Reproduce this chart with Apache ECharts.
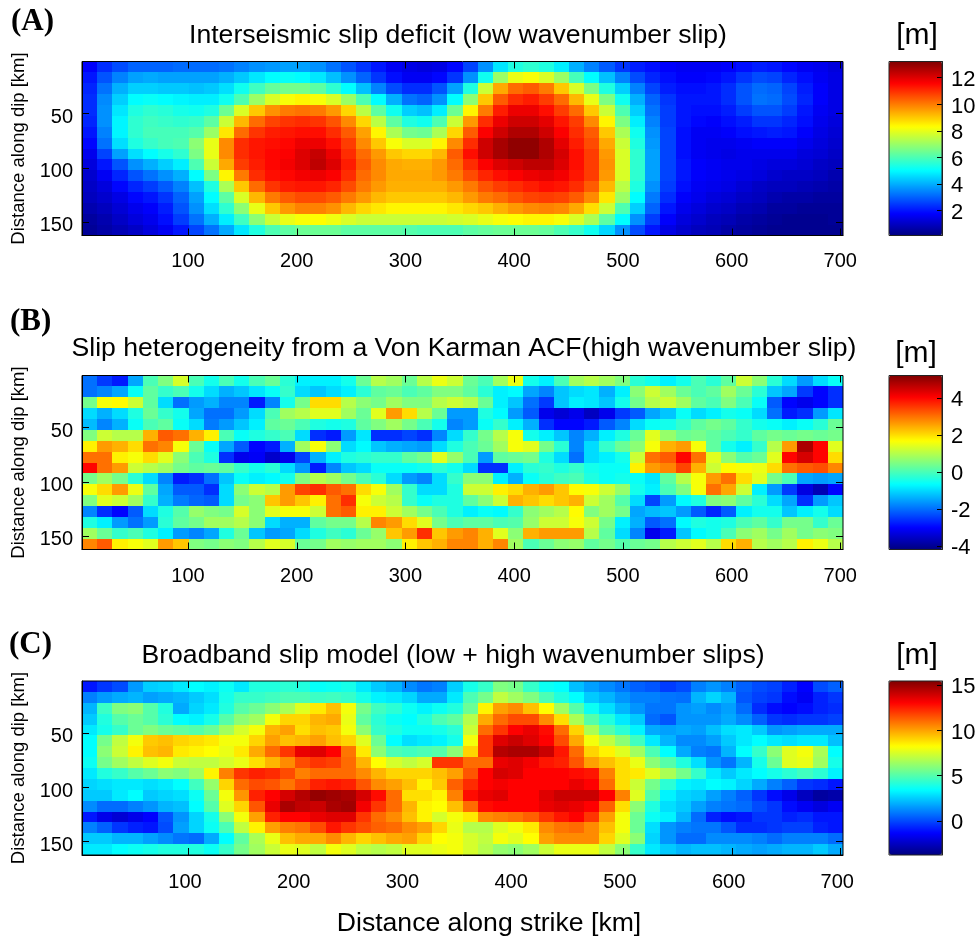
<!DOCTYPE html>
<html><head><meta charset="utf-8">
<style>html,body{margin:0;padding:0;background:#fff}#c{width:979px;height:937px}</style>
<script src="https://cdn.jsdelivr.net/npm/echarts@6/dist/echarts.min.js"></script>
</head><body><div id="c"></div>
<script>
const titles=["Interseismic slip deficit (low wavenumber slip)","Slip heterogeneity from a Von Karman ACF(high wavenumber slip)","Broadband slip model (low + high wavenumber slips)"];
const panelLabels=["(A)","(B)","(C)"];
const xTicks=[100,200,300,400,500,600,700];
const yTicks=[50,100,150];
const barTicksA=[2,4,6,8,10,12];
const barTicksB=[-4,-2,0,2,4];
const barTicksC=[0,5,10,15];
const rangeA=[0.1,13.2], rangeB=[-4.2,5.2], rangeC=[-3.8,15.4];
const jet=['#000080','#0000ff','#0080ff','#00ffff','#80ff80','#ffff00','#ff8000','#ff0000','#800000'];
const slipA=[
[1.7,2.3,2.7,3,3,3,3.1,3.1,3.1,3.2,3.4,3.6,3.7,3.8,3.8,3.6,3.2,2.8,2.4,2,1.6,1.4,1.3,1.4,1.8,2.6,3.6,4.7,5.4,5.6,5.4,4.8,4,3.4,2.9,2.4,2.1,1.9,1.7,1.6,1.6,1.6,1.7,1.9,2.1,2,1.8,1.6,1.5,1.3],
[2,2.8,3.4,3.8,3.9,3.8,3.8,3.8,3.8,4,4.3,4.7,5,5.1,5,4.7,4.2,3.6,3,2.4,1.9,1.6,1.6,1.8,2.4,3.6,5.2,7,8,8.2,7.8,7,5.9,5,4.2,3.4,2.7,2.2,1.9,1.7,1.7,1.8,2,2.4,2.7,2.6,2.2,1.9,1.6,1.4],
[2.2,3.2,4,4.4,4.4,4.3,4.3,4.2,4.3,4.6,5.2,5.8,6.3,6.5,6.5,6.2,5.6,5,4.2,3.4,2.7,2.3,2.3,2.8,3.8,5.4,7.6,9.4,10.2,10.4,10,9,7.8,6.6,5.4,4.4,3.4,2.6,2.1,1.9,1.9,2,2.3,2.8,3.1,3,2.6,2.1,1.7,1.4],
[2.3,3.5,4.4,5,5.1,5,4.9,4.8,4.8,5.2,6,7,7.8,8.2,8.4,8.2,7.8,7,6,5,4,3.2,3,3.6,5,6.8,9,10.4,11,11.2,10.8,10.2,9.2,8,6.6,5.2,4,3,2.4,2,2,2,2.3,2.8,3.2,3.1,2.7,2.2,1.7,1.4],
[2.3,3.6,4.7,5.4,5.6,5.5,5.3,5.2,5.4,6.4,7.8,9,9.7,10,10.1,10,9.6,8.8,7.4,6.2,5.2,4.4,4.2,4.8,6.4,8.4,10,11.2,11.8,11.8,11.4,10.8,10.2,9,7.6,6,4.4,3.2,2.5,2,1.9,1.9,2.1,2.5,2.8,2.8,2.5,2,1.6,1.4],
[2.2,3.6,4.9,5.6,5.8,5.7,5.6,5.7,6.2,7.6,9.2,10.2,10.7,10.9,11,10.9,10.5,9.8,8.8,7.4,6.2,5.4,5.2,6,7.6,9.6,11,11.8,12.2,12.2,11.9,11.3,10.8,9.8,8.4,6.6,4.8,3.4,2.5,2,1.8,1.7,1.9,2.1,2.4,2.4,2.2,1.9,1.5,1.3],
[2,3.4,4.9,5.6,5.9,5.9,5.9,6.1,7,8.6,10.2,10.9,11.2,11.3,11.4,11.4,11,10.4,9.5,8.4,7.2,6.5,6.4,7.2,8.8,10.4,11.6,12.2,12.6,12.6,12.2,11.6,11,10.4,9,7.2,5.2,3.6,2.6,1.9,1.6,1.6,1.7,1.9,2,2.1,2,1.7,1.4,1.2],
[1.8,3.2,4.6,5.4,5.7,5.9,6,6.8,8,9.8,11,11.3,11.4,11.5,11.8,11.8,11.4,10.8,9.8,9,8.2,7.8,7.8,8.4,9.8,11,12.2,12.7,13,13,12.6,11.9,11.2,10.6,9.4,7.6,5.4,3.7,2.6,1.9,1.6,1.5,1.5,1.6,1.7,1.7,1.7,1.5,1.3,1.1],
[1.5,2.6,3.8,4.6,5,5.3,5.6,6.6,8,9.8,11,11.3,11.5,11.6,12,12.3,11.8,11,10.2,9.6,9,8.8,8.8,9.2,10.4,11.4,12.2,12.7,13,13,12.6,12.1,11.4,10.8,9.6,7.8,5.6,3.8,2.6,1.9,1.6,1.5,1.4,1.5,1.5,1.5,1.5,1.3,1.2,1],
[1.3,2,2.8,3.6,4,4.4,4.8,6,7.6,9.4,10.8,11.2,11.5,11.7,12,12.4,12,11.2,10.4,9.8,9.4,9.3,9.3,9.6,10.2,11,11.6,12,12.2,12.4,12.4,12,11.4,10.8,9.7,7.8,5.6,3.8,2.6,2,1.7,1.6,1.5,1.5,1.4,1.3,1.3,1.2,1,0.9],
[1.1,1.6,2.2,2.8,3.2,3.6,4,5,6.6,8.4,10,11,11.4,11.5,11.7,11.8,11.6,11,10.2,9.8,9.4,9.4,9.4,9.6,10,10.6,11.1,11.4,11.6,11.8,11.9,11.7,11.3,10.8,9.6,7.8,5.6,3.8,2.6,2,1.7,1.6,1.5,1.4,1.3,1.1,1,1,0.9,0.7],
[1,1.3,1.8,2.2,2.5,2.9,3.4,4.2,5.4,7.2,9,10.2,10.9,11.2,11.3,11.3,11.1,10.6,10,9.6,9.3,9.3,9.3,9.3,9.6,10,10.5,10.8,11,11.2,11.4,11.3,11,10.4,9.2,7.4,5.4,3.6,2.5,1.9,1.6,1.5,1.4,1.2,1,0.9,0.9,0.8,0.7,0.6],
[0.9,1.1,1.4,1.8,2,2.4,3,3.8,5,6.2,7.8,9.2,10,10.4,10.6,10.6,10.4,10,9.6,9.2,9,9,9,9,9.2,9.6,10,10.2,10.5,10.7,10.8,10.7,10.4,9.8,8.6,7,5,3.3,2.3,1.7,1.5,1.3,1.2,1,0.9,0.7,0.6,0.6,0.5,0.5],
[0.7,0.9,1.2,1.5,1.7,2.1,2.8,3.6,4.6,5.6,6.8,8,9,9.6,9.9,9.9,9.7,9.2,8.8,8.6,8.4,8.4,8.4,8.4,8.6,8.8,9,9.3,9.6,9.8,9.9,9.8,9.4,8.7,7.6,6,4.4,3,2,1.5,1.3,1.1,1,0.8,0.7,0.5,0.5,0.4,0.4,0.4],
[0.5,0.7,1,1.3,1.5,1.9,2.5,3.2,4,4.8,5.8,6.8,7.6,8,8.2,8.3,8.1,7.8,7.6,7.6,7.6,7.6,7.6,7.6,7.7,7.8,8,8.2,8.3,8.4,8.4,8.2,7.8,7.2,6.2,5,3.6,2.5,1.7,1.3,1.1,0.9,0.8,0.6,0.5,0.4,0.3,0.3,0.3,0.4],
[0.4,0.6,0.8,1,1.3,1.6,2,2.6,3.2,3.9,4.7,5.4,6,6.2,6.4,6.4,6.4,6.2,6.2,6.2,6.2,6.1,6,6,6,6.2,6.3,6.4,6.4,6.4,6.3,6,5.7,5.2,4.5,3.6,2.7,2,1.4,1.1,0.9,0.8,0.6,0.5,0.4,0.3,0.3,0.3,0.3,0.3]
];
const slipB=[
[-2,-2.5,-2.8,-1.5,0,.5,1.3,0,-.5,0,-.5,0,.3,-.3,-.8,-.8,-.8,-.5,.3,1,.8,.3,1,1.5,1.2,.3,0,.8,1.5,-.5,-.8,0,.8,1,.8,.5,-.3,-.5,-.8,-.5,0,-.3,.2,1.2,.6,-.3,-1,-1.6,-1,-.6],
[-2,-1.8,-1.5,-.6,.2,-.2,0,-.5,-1,-1.4,-1.2,-.9,-.6,-.2,-1,-1.2,-1,-.8,-.3,.2,.3,0,.2,.5,.5,.2,-.3,-.8,-.7,-1.5,-1.8,-1.2,-1,-.9,-1.4,-.8,.6,1.2,.8,.3,0,.2,.8,.3,-.3,-1.2,-1.5,-2.5,-3,-2.6],
[.4,1.6,1.7,1.2,.2,-1,-2,-1.6,-1.4,-1.8,-1.8,-2.8,-1.8,-.5,.4,2,2,1,.6,.4,.8,.5,.5,1,1.2,1,.3,-.8,-1.2,-2,-2.5,-1.2,-.8,-.9,-1.2,-.5,.4,1,1.2,.8,.2,0,.5,0,-.6,-2.2,-3,-3.2,-3,-2.6],
[-1,-1.4,-1,-.4,.3,-.2,-.5,-1.5,-2,-2,-1.6,-1,0,.8,1,1.4,1.4,.8,.3,1.4,2.6,2,1,.3,-1.6,-1.6,-.4,-.7,-1.6,-2.2,-3.2,-3.4,-3.2,-3.6,-3.2,-2.5,-2.2,-1.5,-1.2,-.6,-1,-.8,-.5,-.6,-1,-2,-2.8,-2.6,-1.6,-.9],
[-1.3,-1.8,-1.4,-.6,0,.2,-.6,-1,-1.9,-1.6,-1.2,-.8,.2,.3,0,-.4,-.5,-.4,.2,.5,.8,.4,0,-.5,-1.8,-1.6,-.6,-.2,-.8,-1.4,-2.6,-3,-3,-2.8,-2.2,-1.8,-1,-.6,-.5,-.2,.2,.4,.2,-.2,-.5,-.6,-.8,-.6,-.3,.3],
[.5,1.2,1,1,2.4,3.2,3,2.4,1.8,0,-.6,-.4,-.2,0,-1,-2.6,-2.8,-1.6,-.9,-2.6,-2.6,-2.4,-2.6,-1.8,-1,-.2,.4,1,1.6,-.5,-.8,-1.2,-1.8,-1.4,-.8,-.4,.3,1.4,.7,.3,.4,.2,0,-.2,.2,.4,.3,.4,.3,.4],
[1.8,2.6,2.4,2,3,2.8,1.6,.3,-.6,-1.5,-2.2,-3,-2.8,-1.4,.8,1.6,.6,-1,-.7,-1.2,-1.4,-1.5,-1.6,-1,-.4,0,.3,.8,1.6,1.4,.4,-.3,-1.8,-1,-.2,.3,.6,1.6,2.4,2.6,1.6,.2,-.5,-.8,-.2,1,2.6,4.8,4,1.4],
[3,3,1.8,1.6,2,1.4,.6,0,-.4,-2.6,-3.2,-3.1,-3.5,-3.2,-2.4,-1.4,-.8,-.4,-.3,-.2,-.2,.2,.4,1.4,.7,0,-1.6,.2,.3,.4,-.4,-1,-2,-1,-.8,-.5,1.2,3,3.2,4,3,1.4,.6,.1,.3,1.4,4,4.4,4,2],
[4,3,2.6,1.2,1,.8,.4,.2,.3,.2,-.2,-.5,-.3,-1,-1.6,-2.8,-1.8,-1.2,-1,-.6,-.6,-.6,-.5,-.3,-.5,-1,-2.6,-2.6,-.8,-.3,-.2,-.4,-.2,-.5,-.6,-.6,1.8,2.6,2.8,3.4,2.4,1.2,1.7,1.6,1.5,2,3,3.2,3.3,2.8],
[.4,.8,.4,-.3,-1,-1.8,-2.8,-2.6,-2,-1.2,-.6,-.8,-.7,-.5,.5,1,.8,.4,0,-.3,-1,-1.6,-1.8,-1,-.2,.6,.6,-.8,-1.4,-.6,-.3,-.1,0,-.4,-.6,-.5,-.6,-.9,.2,1,1.6,2.6,3,2,1.4,.4,0,-1.5,-1.6,-1.5],
[1.6,2,2.6,1.5,.2,-1.5,-2.2,-2.2,-2.6,-1,.6,1.2,1,2.6,3.4,3.6,3.2,3,2,1.6,.8,-.2,-1,-1,-.4,1.2,1.2,1.8,2,2.4,2.6,2.2,1.7,1.6,1.2,.7,-.5,-.8,0,.5,1.6,3,2.5,1.2,-.8,-1.6,-2.5,-3.3,-3.7,-3],
[.5,1.4,1.2,.8,-.2,-1.4,-1.9,-2.1,-2.2,-1,.4,.6,2.2,2.6,2.2,1.8,3,3.6,1.6,1.2,1,-.2,-.6,-.4,-.4,.2,.6,1.2,2.4,2.2,2,2.2,2.4,1.2,.8,.1,-1,-2.4,-1.6,-.7,-.4,.5,.6,.2,-.3,-1,-1.5,-2.6,-1.6,-1.2],
[-1.8,-2.6,-3,-2.2,-1,-.4,.1,.7,.5,.4,1.3,.6,1.4,1.6,1.6,1.2,3,3.2,1.8,1.8,1.2,.8,.4,0,-.4,-.8,-.6,-.7,-.2,.6,.8,1,1.7,.5,.8,.4,-1.5,-1.3,-1.2,-1.6,-2.2,-2.7,-2.2,-.8,-.5,-.5,-1.2,-.8,-.5,-1],
[-.4,-.8,-1.6,-2,-1.6,-.3,.2,.4,.8,.8,1,.6,-1,-1.4,-1.4,.2,.4,.4,1,2.8,2.6,2,1.4,.4,0,.2,.2,0,.1,.7,1.2,1.2,1.6,1.2,.4,-.8,-1.4,-2.2,-2,-.7,-.4,-.5,-.4,0,.2,-.2,.4,.4,-.2,.3],
[.8,.3,-.2,0,-.4,-.8,-1.6,-1.8,-1.5,-.4,.3,-1.2,-1.6,-1.5,-1,-.4,-.1,-.3,.3,.7,2.2,2.6,3.6,2.2,2.6,2.8,2.4,1.4,.6,2.4,2.6,2.6,2.6,1,.2,-1,-1.8,-3.2,-2.8,-1.2,-.7,-.5,0,.6,.8,.4,.8,.4,.6,.5],
[2.8,3.2,1.8,1.6,1.4,2.6,2.2,.5,.4,.6,.5,1,1.4,1.3,.3,.4,.8,.7,.8,.8,.6,1.8,2.2,2.4,2.8,2.8,2.4,2.8,.8,0,.3,.6,.7,.2,.4,.1,.3,.4,1,1.2,1.4,1,2,2.4,1,.8,1,1.8,1.5,1]
];
const slipC=[
[-1,-.4,0,1.5,2.5,2.6,3,3.4,3.2,3.6,3,4,4,4.2,4,3.5,3.6,3.8,3,2.4,2,1.2,.8,1,2.5,3.8,4.4,5.8,5.6,4.4,3.6,3.4,2.2,1.6,1.2,.8,.4,.2,-.3,0,1,1.4,1,.4,0,-.2,-.8,-1.4,0,.4],
[1,1.5,1.8,2,1.6,1.8,2,2.4,2.8,3.8,4.4,4.4,4.6,4.8,4.8,4.5,4.6,4.4,3.8,3.2,3,2.6,1.8,1.8,3,4.8,5.6,7,6.4,5.8,4.8,4,3.4,2.4,2,1.4,1,1,.8,.7,2,2.6,2,.2,-.2,-.4,-1.2,-1.6,-.8,-.4],
[2,4.5,5.8,6,5,4,1.8,2.6,3,4,5,5.4,6,6.6,7.6,8.6,9.4,8,5.6,4.6,4.2,3.6,3.2,3.6,4,5.4,8.4,10,10.4,9.4,8.2,6.4,5,3.6,2.8,2,1.4,.8,.8,1.4,1.6,1.2,1.6,.6,-.6,-1.2,-1.4,-1.2,-.8,-.6],
[2.4,4,5,5.4,5,4.2,3.4,3.2,3.8,5,6,6.4,8,9,9,9.6,9.8,7.8,5.2,4.2,3.6,3.4,4,4.8,5.2,6.8,9.8,11,11.6,11.6,10.4,8.8,6.6,5,4,3,2.4,.6,.2,1.4,1.4,1.4,1.8,1.2,.4,-.4,-.6,-.4,-.4,-.2],
[3,3.8,4.4,5.4,5.8,5.4,5.2,5,5.4,6.4,7.4,8,9.6,10,8.8,9.4,9.2,8,6,4.4,4,3.6,3.6,3.8,4.2,7.2,11,12,13,13.4,12.8,11,9,6.6,5,4.2,3.2,1.8,1.6,1.8,1.6,2.2,2.8,3,2.4,1.4,1.6,1.8,1.8,1.8],
[3.4,5.6,7,8,9.2,9.4,9,8.8,8.6,8,8,9,10,9.4,9.6,10,9.4,9,7.6,5.4,3.4,2.8,3,3.2,3.8,8,12,13.6,14,13.6,13,11.6,9.8,8,7,6,4.6,3,2,1.2,1.2,1.6,2.4,3,3.4,3,2.8,3,3,2.2],
[3.4,6,7.2,8.4,9.4,9.6,8.6,8.4,8.2,7.8,8.6,9.8,11,12,13.4,13.6,13,10.8,8.6,6,4.8,4.6,4.8,5,6,9,12,14.4,14.6,14.6,14,12.6,11,9,8.4,7.6,6.4,4.8,3.4,1.8,1,.8,2,3.4,4.4,6,7.6,8,6.6,3.4],
[3.6,5.6,6.4,7,7.6,8,7.2,7,7,7.4,7.8,8.8,9.6,10.4,11.6,12,11.8,11,9.6,8.2,7.4,7,7.4,12,12,11,11,13.4,13.6,13.2,12.6,12.4,11.4,10,9.4,8.8,7.8,6,5,4,2.8,1.4,.8,2,3.8,5.4,7.6,7.8,6.4,3.8],
[3,4,4.4,5,5.4,6,5.8,6.4,8.4,10.6,12,12.4,12.2,11.6,10.6,11,11,11,10.4,9.6,9,9,9,9.4,10,11.4,13,13.8,13.6,13,13,13,12.8,12.6,10.6,8.8,8.6,7.6,6.6,5.6,4.4,3,2.4,3,3.4,3.8,4.2,4.6,4.2,3.2],
[2.6,2.8,3,3,2.8,3,3.4,4.6,6.2,9,11,11.6,11.4,10.8,11.6,12.4,12.6,12.4,11.4,10.4,10,9.4,8.4,9.2,11.2,12.2,13,13.2,13,13,13,13,13.4,13,11,8.8,7.2,5.6,4.2,3.2,3,3.4,3.2,2.6,1.8,1,.4,-.4,-.6,-1],
[2.4,2.4,3,3.4,2.4,2.6,2.8,3.6,5.4,8,10.2,12.4,13,13.8,14.4,15,14.8,14.6,13.8,12.8,11,8.8,8.8,8.4,10.6,12.8,13.4,13.6,13,13,13.6,14,14,14,13,10.6,7.6,5,3.2,2.6,2.4,1.6,1,.4,-.4,-1.2,-1.8,-2.6,-3.2,-3],
[1.2,.6,.6,1,1.4,2,2.2,3.4,5,7.6,9,11.4,13.4,14.6,14.2,14,14.6,14.8,13.2,12,11,9.6,8.4,8.2,9.4,11,12.8,13,13,13,13.4,13.6,13.4,13,11.2,8.8,6,4,2.8,2.4,1.6,1,.8,.6,0,-.4,-1.2,-1.6,-2,-1.6],
[-1,-1.8,-2.2,-1.8,-1.4,.2,1.4,2.6,3.8,6,8,10,12.4,13,13,13.4,13.6,13.6,12,11,10.4,9.4,8.4,7.4,8,8.6,10.4,10.6,10.8,11.2,12,12.6,13,12,10,8,5.4,3.6,3.2,2,.6,-.8,-1.2,-1,-.4,-.4,-.8,-.6,-1,-1],
[1,.4,-.4,-.8,-1,0,1.6,2.6,3.6,4.8,7,8.4,10,10.6,10.8,11.6,12.6,12,11.6,11.2,11,10.4,10,9,7.8,6.8,6.8,7.6,8,8.6,10.4,10.8,11,10.4,9.4,8,5.4,2.8,1.4,1,.8,.8,.2,-.6,-.6,-.4,-.2,-.2,-.8,-1],
[2.4,2.4,2,2,1.6,1.2,.8,.6,1.8,3.4,5.2,6.6,7.8,9.4,9.8,9.8,10.4,9.6,9,9.4,9.8,10,9,8.2,8,7.4,7,8,7.6,8.2,10,10.4,10.4,10.4,9,7.6,6,2.6,1.4,.6,.6,1.2,1.2,1.2,1,.6,1,1,1,.6],
[3,3,3.4,3.6,3.8,4,4,4,3.6,4.4,5.6,6.4,7.2,7.8,7.6,7,8,7.6,7,6.8,7,7.6,7.6,7.8,8,7.4,6.8,6.2,6,6.4,7.2,7.8,7.8,7.8,7,6,4.4,3,2.4,2,2.2,2.2,2,1.8,1.6,1.8,2,2,2.4,1.8]
];

const cellX=14, cellY=10, xMin=2.5, xMax=702.5, yMin=2.5, yMax=162.5;
const tickFont='"Liberation Sans",Arial,sans-serif';
const sansFont='"Liberation Sans",Arial,sans-serif';
const plotLeft=82, plotW=761, plotH=174, barLeft=889, barW=53;
const tops=[61.5,375.5,681];
const titleX=[458,464,453], titleTop=[22,335,642];
const labelTop=[6,306,629], labelLeft=[11,10,9];
const mTop=[21,339,641], mX=[917,916,917];
const labelShift=[0,0,6];
const xLabelMargin=[16,17,17];
const yNameGap=[36,38,34];

function toCells(rows){
  const out=[];
  rows.forEach((r,j)=>r.forEach((v,i)=>out.push([xMin+cellX*(i+.5),yMin+cellY*(j+.5),v])));
  return out;
}
function cellRender(params,api){
  const x=api.value(0),y=api.value(1);
  const a=api.coord([x-cellX/2,y-cellY/2]),b=api.coord([x+cellX/2,y+cellY/2]);
  const l=Math.round(a[0]),t=Math.round(a[1]),r=Math.round(b[0]),bt=Math.round(b[1]);
  return {type:'rect',shape:{x:l,y:t,width:r-l,height:bt-t},style:{fill:api.visual('color')}};
}
function segment(x1,y1,x2,y2){
  return {type:'line',shape:{x1,y1,x2,y2},style:{stroke:'#000',lineWidth:1,fill:null}};
}
function plotTickRender(params,api){
  const v=api.value(0),isX=api.value(1)===0,n=7;
  if(isX){
    const a=api.coord([v,yMin]),b=api.coord([v,yMax]),x=Math.round(a[0])+.5;
    return {type:'group',children:[segment(x,a[1],x,a[1]+n),segment(x,b[1],x,b[1]-n)]};
  }
  const a=api.coord([xMin,v]),b=api.coord([xMax,v]),y=Math.round(a[1])+.5;
  return {type:'group',children:[segment(a[0],y,a[0]+n,y),segment(b[0],y,b[0]-n,y)]};
}
function barTickRender(params,api){
  const p=api.coord([1,api.value(0)]),y=Math.round(p[1])+.5;
  return segment(p[0],y,p[0]-5,y);
}
const axisLine={show:true,onZero:false,lineStyle:{color:'#000',width:1}};
const grid=[],xAxis=[],yAxis=[],series=[],visualMap=[],title=[];
const all=[slipA,slipB,slipC],ranges=[rangeA,rangeB,rangeC],barTicks=[barTicksA,barTicksB,barTicksC];
all.forEach((rows,k)=>{
  grid.push({left:plotLeft,top:tops[k],width:plotW,height:plotH,show:true,borderColor:'#000',borderWidth:1,z:10,outerBoundsMode:'none'});
  const xi=xAxis.length, yi=yAxis.length;
  const common={type:'value',min:xMin,max:xMax,gridIndex:k,splitLine:{show:false},axisLine,z:10,axisTick:{show:false}};
  xAxis.push(Object.assign({},common,{position:'bottom',
    name:k===2?'Distance along strike [km]':'',nameLocation:'middle',nameGap:55,
    nameTextStyle:{fontFamily:sansFont,fontSize:26.6,color:'#000',padding:[0,0,0,53]},
    axisLabel:{show:true,customValues:xTicks,margin:xLabelMargin[k],fontFamily:tickFont,fontSize:20,color:'#000',padding:[0,labelShift[k],0,0]}}));
  const ycommon={type:'value',min:yMin,max:yMax,inverse:true,gridIndex:k,splitLine:{show:false},axisLine,z:10,axisTick:{show:false}};
  yAxis.push(Object.assign({},ycommon,{position:'left',
    name:'Distance along dip [km]',nameLocation:'middle',nameGap:yNameGap[k],
    nameTextStyle:{fontFamily:tickFont,fontSize:18.5,color:'#000'},
    axisLabel:{show:true,customValues:yTicks,margin:9,fontFamily:tickFont,fontSize:20,color:'#000',verticalAlign:'top',lineHeight:8}}));
  series.push({type:'custom',coordinateSystem:'cartesian2d',xAxisIndex:xi,yAxisIndex:yi,renderItem:cellRender,
    data:toCells(rows),encode:{x:0,y:1},animation:false,silent:true,z:2});
  visualMap.push({type:'continuous',seriesIndex:series.length-1,dimension:2,min:ranges[k][0],max:ranges[k][1],
    inRange:{color:jet},left:barLeft,top:tops[k],itemWidth:barW,itemHeight:plotH,padding:0,calculable:false,
    hoverLink:false,text:null,textStyle:{fontSize:0}});
  series.push({type:'custom',coordinateSystem:'cartesian2d',xAxisIndex:xi,yAxisIndex:yi,renderItem:plotTickRender,
    data:xTicks.map(v=>[v,0]).concat(yTicks.map(v=>[v,1])),animation:false,silent:true,z:6,clip:false});
  title.push({text:titles[k],left:titleX[k],top:titleTop[k],textAlign:'center',padding:0,
    textStyle:{fontFamily:sansFont,fontSize:26.6,fontWeight:'normal',color:'#000'}});
  title.push({text:panelLabels[k],left:labelLeft[k],top:labelTop[k],padding:0,
    textStyle:{fontFamily:'"Liberation Serif",serif',fontSize:31,fontWeight:'bold',color:'#000'}});
  title.push({text:'[m]',left:mX[k],top:mTop[k],textAlign:'center',padding:0,
    textStyle:{fontFamily:sansFont,fontSize:30,fontWeight:'normal',color:'#000'}});
});
all.forEach((rows,k)=>{
  const g=grid.length;
  grid.push({left:barLeft,top:tops[k],width:barW,height:plotH,show:true,borderColor:'#222',borderWidth:1,z:10,backgroundColor:'transparent',outerBoundsMode:'none'});
  const xi=xAxis.length,yi=yAxis.length;
  xAxis.push({type:'value',gridIndex:g,min:0,max:1,show:false});
  yAxis.push({type:'value',gridIndex:g,min:ranges[k][0],max:ranges[k][1],position:'right',splitLine:{show:false},z:10,
    axisLine:{show:true,onZero:false,lineStyle:{color:'#222'}},axisTick:{show:false},
    axisLabel:{show:true,customValues:barTicks[k],margin:9,fontFamily:tickFont,fontSize:22,color:'#000',verticalAlign:'top',lineHeight:5}});
  series.push({type:'custom',coordinateSystem:'cartesian2d',xAxisIndex:xi,yAxisIndex:yi,renderItem:barTickRender,
    data:barTicks[k].map(v=>[v]),animation:false,silent:true,z:6,clip:false});
});
const chart=echarts.init(document.getElementById('c'),null,{renderer:'canvas'});
chart.setOption({animation:false,backgroundColor:'#fff',title,grid,xAxis,yAxis,series,visualMap,tooltip:{show:false}});
</script></body></html>
